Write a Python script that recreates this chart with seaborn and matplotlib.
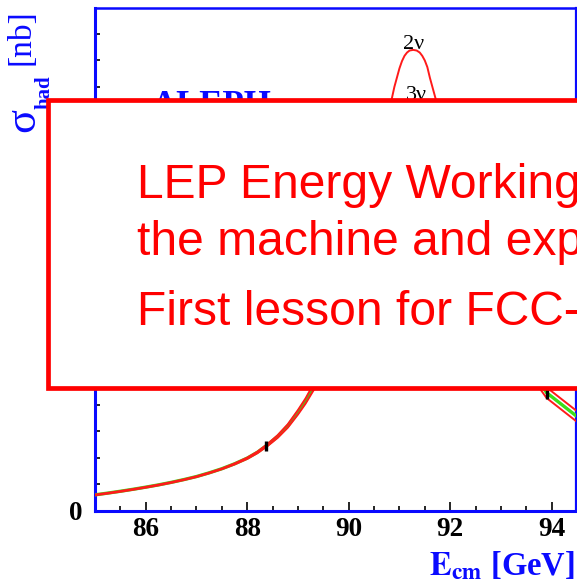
import numpy as np
import pandas as pd
import seaborn as sns
import matplotlib
matplotlib.use("Agg")
import matplotlib.pyplot as plt
from matplotlib.patches import Rectangle

# ---------------- data ----------------
energy = [85.0, 85.25, 85.5, 85.75, 86.0, 86.25, 86.5, 86.75, 87.0, 87.25, 87.5,
          87.75, 88.0, 88.2, 88.4, 88.6, 88.8, 89.0, 89.15, 89.3, 89.45, 89.6,
          90.0, 90.4, 90.7, 90.86, 90.9, 90.95, 91.0, 91.05, 91.1, 91.15, 91.2,
          91.27, 91.34, 91.4, 91.45, 91.5, 91.55, 91.6, 91.65, 91.7, 91.9, 92.2,
          92.6, 93.0, 93.4, 93.7, 93.9, 94.1, 94.3, 94.5]
sigma_2nu = [1.24, 1.37, 1.51, 1.66, 1.82, 1.99, 2.18, 2.39, 2.62, 2.90, 3.21,
             3.59, 4.03, 4.48, 5.06, 5.72, 6.55, 7.62, 8.5, 9.54, 10.7, 12.0,
             16.5, 22.8, 28.6, 31.3, 32.0, 32.7, 33.4, 33.95, 34.35, 34.6, 34.75,
             34.8, 34.75, 34.6, 34.35, 34.0, 33.5, 32.7, 32.0, 31.3, 28.5, 24.6,
             19.8, 15.8, 12.8, 10.6, 9.33, 8.73, 8.13, 7.53]
sigma_3nu = [1.21, 1.34, 1.48, 1.63, 1.79, 1.96, 2.15, 2.36, 2.59, 2.87, 3.18,
             3.55, 3.98, 4.42, 4.98, 5.62, 6.42, 7.45, 8.3, 9.3, 10.4, 11.6,
             15.5, 20.5, 25.0, 26.6, 27.1, 27.6, 28.1, 28.6, 29.0, 29.4, 29.7,
             29.9, 29.95, 29.9, 29.8, 29.6, 29.35, 29.05, 28.7, 28.3, 26.6, 23.4,
             19.0, 15.2, 12.2, 10.1, 8.93, 8.33, 7.73, 7.13]
sigma_4nu = [1.18, 1.31, 1.45, 1.60, 1.76, 1.93, 2.12, 2.33, 2.56, 2.84, 3.15,
             3.51, 3.93, 4.36, 4.90, 5.52, 6.29, 7.28, 8.1, 9.06, 10.1, 11.2,
             14.6, 18.6, 22.0, 23.4, 23.8, 24.2, 24.6, 25.0, 25.3, 25.6, 25.8,
             26.0, 26.05, 26.0, 25.95, 25.85, 25.7, 25.5, 25.3, 25.0, 23.9, 21.6,
             17.9, 14.5, 11.6, 9.6, 8.53, 7.93, 7.33, 6.73]
sigma_fit = [1.22, 1.35, 1.49, 1.64, 1.80, 1.97, 2.16, 2.37, 2.60, 2.88, 3.19,
             3.56, 3.99, 4.43, 4.99, 5.63, 6.42, 7.45, 8.3, 9.3, 10.4, 11.6,
             15.5, 20.5, 25.0, 26.6, 27.1, 27.6, 28.1, 28.6, 29.0, 29.4, 29.7,
             29.9, 29.95, 29.9, 29.8, 29.6, 29.35, 29.05, 28.7, 28.3, 26.6, 23.4,
             19.0, 15.2, 12.2, 10.1, 8.93, 8.33, 7.73, 7.13]

data_energy = [88.38, 89.43, 90.22, 91.23, 91.97, 92.97, 93.90]
data_sigma = [4.93, 10.3, 17.6, 29.9, 26.0, 15.3, 8.88]
data_error = [0.38, 0.40, 0.40, 0.40, 0.40, 0.40, 0.42]

x_major_ticks = [86, 88, 90, 92, 94]
x_tick_labels = ["86", "88", "90", "92", "94"]
y_major_ticks = [0]
y_tick_labels = ["0"]

curve_labels = ["2\u03bd", "3\u03bd"]
box_lines = ["LEP Energy Working", "the machine and exp", "First lesson for FCC-"]

# ---------------- style ----------------
sns.set_style("white")
plt.rcParams["font.family"] = ["Liberation Serif", "DejaVu Serif"]
plt.rcParams["mathtext.fontset"] = "stix"

W, H = 577, 584
fig = plt.figure(figsize=(W / 100, H / 100), dpi=100)
fig.patch.set_facecolor("white")

def fx(px):
    return px / W

def fy(py):
    return 1 - py / H

ax = fig.add_axes([fx(95), fy(511), fx(576) - fx(95), fy(8) - fy(511)])
ax.set_facecolor("white")

df = pd.DataFrame({"E": energy, "nu2": sigma_2nu, "nu3": sigma_3nu,
                   "nu4": sigma_4nu, "fit": sigma_fit})

red = "#FF1A1A"
green = "#3ADF1A"
blue = "#0A0AFF"

sns.lineplot(data=df, x="E", y="nu3", ax=ax, color=red, lw=1.3,
             estimator=None, sort=False, zorder=2)
sns.lineplot(data=df, x="E", y="fit", ax=ax, color=green, lw=2.4,
             estimator=None, sort=False, zorder=3)
sns.lineplot(data=df, x="E", y="nu2", ax=ax, color=red, lw=1.4,
             estimator=None, sort=False, zorder=4)
sns.lineplot(data=df, x="E", y="nu4", ax=ax, color=red, lw=1.4,
             estimator=None, sort=False, zorder=4)

ax.errorbar(data_energy, data_sigma, yerr=data_error, fmt="none",
            ecolor="black", elinewidth=2.4, capsize=0, zorder=6)

ax.text(91.27, 34.9, curve_labels[0], ha="center", va="baseline",
        fontsize=16, color="black", zorder=7)
ax.text(91.34, 31.0, curve_labels[1], ha="center", va="baseline",
        fontsize=16, color="black", zorder=7)

ax.set_xlim(85.0, 94.48)
ax.set_ylim(0, 37.96)
ax.set_xlabel("")
ax.set_ylabel("")

ax.set_xticks(x_major_ticks)
ax.set_xticklabels(x_tick_labels, fontsize=19.5, fontweight="bold")
ax.set_xticks(np.arange(85.5, 94.5, 0.5), minor=True)
ax.set_yticks(y_major_ticks)
ax.set_yticklabels(y_tick_labels, fontsize=19.5, fontweight="bold")
ax.set_yticks(np.arange(2, 38, 2), minor=True)

ax.tick_params(axis="both", which="both", direction="in", colors="black",
               bottom=True, left=True, top=False, right=False, width=1.2)
ax.tick_params(axis="x", which="major", length=6.5, pad=4)
ax.tick_params(axis="x", which="minor", length=3.4)
ax.tick_params(axis="y", which="major", length=0, pad=9)
ax.tick_params(axis="y", which="minor", length=3.6)

for side in ["left", "bottom", "top", "right"]:
    ax.spines[side].set_visible(True)
    ax.spines[side].set_color(blue)
    ax.spines[side].set_linewidth(2.2)
ax.spines["right"].set_linewidth(1.6)
ax.spines["top"].set_linewidth(1.8)

# y axis title, built from pieces (rotated)
fig.text(fx(23.5), fy(120), "\u03c3", rotation=90, ha="center", va="center",
         fontsize=32, color=blue)
fig.text(fx(44.5), fy(92), "had", rotation=90, ha="center", va="center",
         fontsize=15, fontweight="bold", color=blue)
fig.text(fx(21), fy(37.5), "[nb]", rotation=90, ha="center", va="center",
         fontsize=24, color=blue)

# x axis title
fig.text(fx(575), fy(575), r"$\mathbf{E_{cm}}$ [GeV]", ha="right",
         va="baseline", fontsize=23.5, fontweight="bold", color=blue)

# experiment name (mostly hidden behind the box)
fig.text(fx(152), fy(90), "ALEPH", ha="left", va="top", fontsize=25,
         fontweight="bold", color=blue, zorder=3)

# red overlay box
rect = Rectangle((fx(47.5), fy(387.5)), fx(760) - fx(47.5), fy(100) - fy(387.5),
                 transform=fig.transFigure, facecolor="white", edgecolor="#FF0000",
                 lw=3.4, zorder=10)
fig.add_artist(rect)

for txt, base in zip(box_lines, [198, 255, 325]):
    fig.text(fx(137), fy(base), txt, ha="left", va="baseline", fontsize=34.6,
             color="#FF0000", family=["Liberation Sans", "DejaVu Sans"], zorder=11)

fig.savefig("out.png", dpi=100, facecolor="white")
